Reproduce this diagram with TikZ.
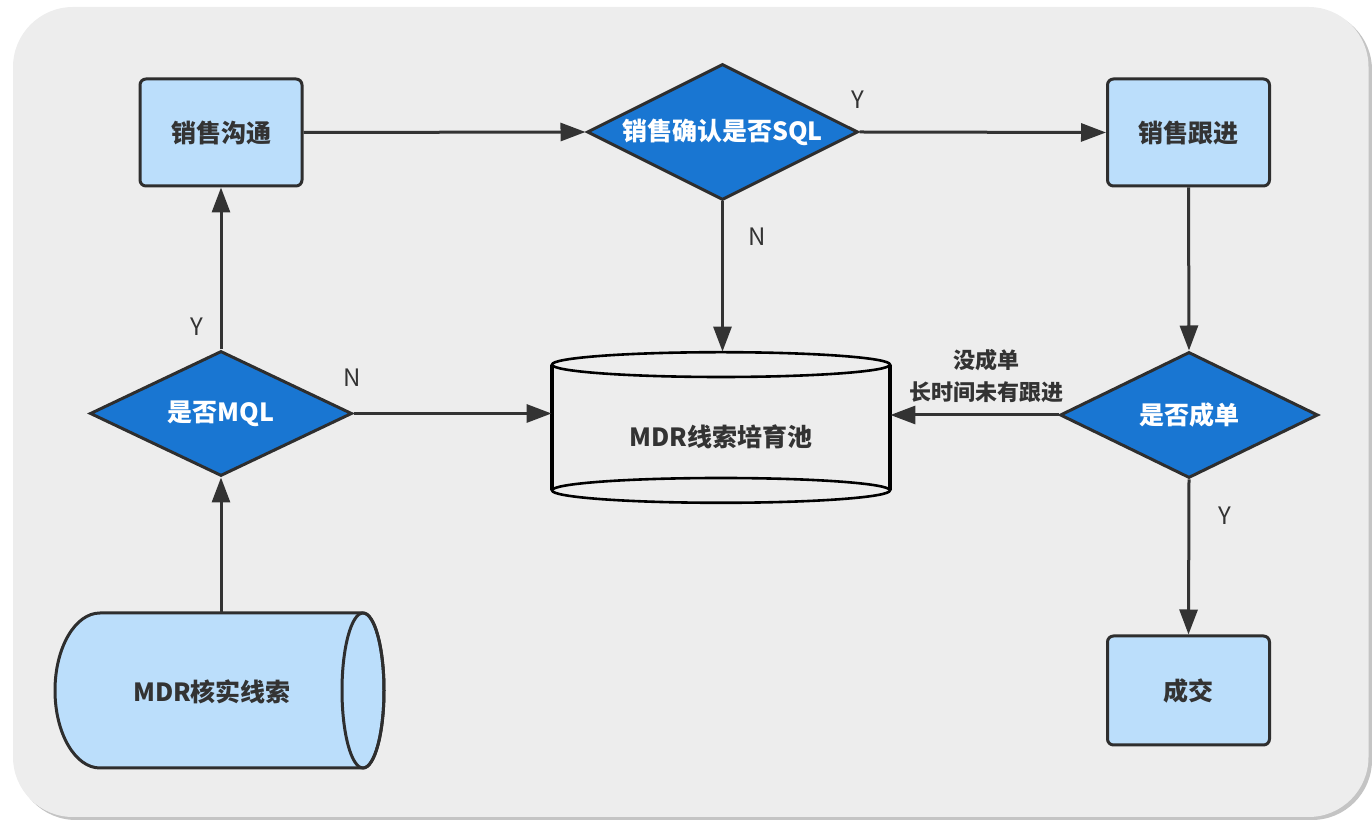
\documentclass[tikz,border=0pt]{standalone}
\usepackage{fontspec}
\setmainfont{Noto Sans CJK SC}
\usetikzlibrary{shapes.geometric,arrows.meta,calc}

\definecolor{panel}{HTML}{EDEDED}
\definecolor{panelshade}{HTML}{9C9C9C}
\definecolor{boxfill}{HTML}{BBDEFB}
\definecolor{decfill}{HTML}{1976D2}
\definecolor{ink}{HTML}{333333}
\definecolor{edge}{HTML}{2E2E2E}

\tikzset{
  procbox/.style={draw=edge, line width=1.5pt, fill=boxfill, rounded corners=3pt,
    minimum width=81pt, minimum height=53.5pt, inner sep=0pt,
    text=ink, font=\fontsize{12.5pt}{15pt}\selectfont\bfseries},
  decision/.style={diamond, draw=edge, line width=1.5pt, fill=decfill, aspect=2,
    inner sep=0pt, text=white, font=\fontsize{12.5pt}{15pt}\selectfont\bfseries},
  flow/.style={draw=ink, line width=1.5pt, -{Triangle[length=12.5pt,width=9pt]}},
  yn/.style={text=ink, font=\fontsize{12pt}{14pt}\selectfont, inner sep=0pt},
  flowtext/.style={text=ink, font=\fontsize{11pt}{13pt}\selectfont\bfseries, inner sep=0pt},
  bodytext/.style={text=ink, font=\fontsize{12.5pt}{15pt}\selectfont\bfseries, inner sep=0pt},
}

\begin{document}
\begin{tikzpicture}[x=0.5pt,y=-0.5pt]
\useasboundingbox (0,0) rectangle (1372,822);

% panel with a soft drop shadow
\fill[panelshade!60, rounded corners=30pt] (16,10) rectangle (1372,820);
\fill[panel, rounded corners=30pt] (13,7) rectangle (1368.5,817);

% process boxes
\node[procbox] (talk)   at (221,132.5)  {销售沟通};
\node[procbox] (follow) at (1188.5,132.5) {销售跟进};
\node[procbox, minimum height=54.5pt] (close) at (1188.5,690.5) {成交};

% decisions
\node[decision, minimum width=135.5pt, minimum height=68pt] (sql) at (722.5,132) {销售确认是否SQL};
\node[decision, minimum width=131pt, minimum height=62.5pt] (mql) at (221,413.5) {是否MQL};
\node[decision, minimum width=129pt, minimum height=63pt] (deal) at (1189,415) {是否成单};

% nurture pool: upright drum with both rims drawn
\node[minimum width=169pt, minimum height=75.5pt, inner sep=0pt] (pool) at (721,427.5) {};
\draw[black, line width=2pt]
  ([yshift=-6.5pt]pool.north west) -- ([yshift=6.5pt]pool.south west)
  ([yshift=-6.5pt]pool.north east) -- ([yshift=6.5pt]pool.south east);
\draw[black, line width=1.3pt]
  ([yshift=-6.5pt]pool.north) ellipse[x radius=84.5pt, y radius=6.2pt]
  ([yshift=6.5pt]pool.south) ellipse[x radius=84.5pt, y radius=6.2pt];
\node[bodytext] (pooltext) at (721,437) {MDR线索培育池};

% verified leads: drum lying on its side
\node[minimum width=165pt, minimum height=77.5pt, inner sep=0pt] (mdr) at (220,690.5) {};
\draw[edge, line width=1.5pt, fill=boxfill]
  (363,613) -- (100,613)
  arc[start angle=90, end angle=270, x radius=22.5pt, y radius=38.75pt]
  -- (363,768)
  arc[start angle=270, end angle=450, x radius=10.5pt, y radius=38.75pt];
\draw[edge, line width=1.5pt] (363,690.5) ellipse[x radius=10.5pt, y radius=38.75pt];
\node[bodytext] (mdrtext) at (212,692) {MDR核实线索};

% connectors
\draw[flow] (talk.east) -- (sql.west);
\draw[flow] (sql.east) -- (follow.west);
\draw[flow] (sql.south) -- (sql.south |- pool.north);
\draw[flow] (follow.south) -- (deal.north);
\draw[flow] (deal.west) -- (deal.west -| pool.east);
\draw[flow] (deal.south) -- (close.north);
\draw[flow] (mql.north) -- (talk.south);
\draw[flow] (mql.east) -- (mql.east -| pool.west);
\draw[flow] (mdr.north -| mql.south) -- (mql.south);

% branch labels
\node[yn] (ysql)  at (858,100) {Y};
\node[yn] (nsql)  at (757,237) {N};
\node[yn] (ymql)  at (197,327) {Y};
\node[yn] (nmql)  at (352,378) {N};
\node[yn] (ydeal) at (1225,516) {Y};
\node[flowtext] (lost1) at (986,360) {没成单};
\node[flowtext] (lost2) at (986,392) {长时间未有跟进};
\end{tikzpicture}
\end{document}
